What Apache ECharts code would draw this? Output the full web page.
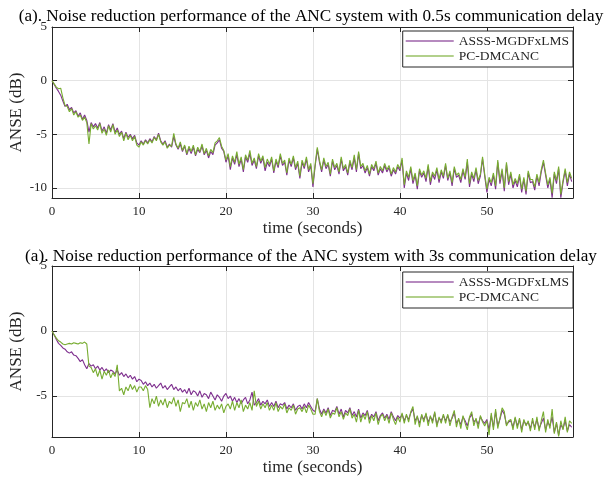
<!DOCTYPE html>
<html>
<head>
<meta charset="utf-8">
<script src="https://cdn.jsdelivr.net/npm/echarts@6/dist/echarts.min.js"></script>
<style>html,body{margin:0;padding:0;background:#fff}#c{width:607px;height:479px}</style>
</head>
<body>
<div id="c"></div>
<script>
// sample spacing of the recorded curves (seconds)
const sampleStep = 0.25;
const xTicks = [0, 10, 20, 30, 40, 50];
const yTicksTop = [-10, -5, 0, 5];
const yTicksBottom = [-5, 0, 5];
const seriesNames = ['ASSS-MGDFxLMS', 'PC-DMCANC'];
const titleTop = '(a). Noise reduction performance of the ANC system with 0.5s communication delay';
const titleBottom = '(a). Noise reduction performance of the ANC system with 3s communication delay';

// 0.5 s delay — ASSS-MGDFxLMS
const delay05_asss = [
0.0,-0.35,-0.7,-1.0,-1.35,-1.9,-2.4,-2.2,-2.7,-2.5,-3.0,-2.8,-3.3,-3.0,-3.6,-3.2,-3.7,-4.8,-3.9,-4.3,-4.0,
-4.4,-3.9,-4.7,-4.3,-4.9,-4.1,-4.6,-4.0,-4.8,-4.4,-5.0,-4.7,-5.4,-4.8,-5.3,-5.0,-5.4,-5.1,-5.8,-6.0,
-5.6,-5.9,-5.5,-5.8,-5.4,-5.7,-5.2,-5.5,-4.9,-5.6,-5.9,-5.6,-6.2,-5.9,-6.2,-5.2,-6.0,-6.4,-5.9,-6.6,
-6.1,-6.9,-6.3,-6.8,-6.2,-7.0,-6.4,-6.7,-6.1,-6.9,-6.5,-7.2,-6.6,-6.9,-6.0,-5.8,-5.5,-6.3,-6.6,-7.6,
-7.0,-8.3,-7.2,-7.8,-6.9,-8.0,-7.3,-8.5,-7.1,-7.6,-6.8,-7.9,-7.4,-8.2,-7.0,-7.7,-7.2,-8.4,-7.6,-8.0,
-7.3,-8.6,-7.5,-8.1,-7.0,-7.9,-7.6,-8.8,-7.4,-8.0,-7.2,-8.3,-7.7,-9.1,-7.6,-8.2,-7.3,-8.5,-7.9,-9.9,
-8.0,-6.4,-7.6,-8.5,-7.4,-8.2,-7.8,-8.9,-7.5,-8.3,-7.9,-8.7,-7.3,-8.4,-8.0,-8.8,-7.6,-8.3,-7.2,-8.5,
-6.8,-8.2,-7.9,-8.6,-8.1,-8.9,-8.0,-8.4,-7.7,-8.8,-8.2,-8.6,-7.9,-8.5,-8.1,-8.9,-8.3,-8.7,-8.0,-8.4,
-7.4,-10.0,-8.6,-9.3,-8.2,-9.6,-8.8,-10.1,-8.4,-9.0,-8.6,-9.4,-8.0,-9.7,-8.7,-9.2,-8.3,-9.5,-8.5,-9.1,
-7.9,-9.3,-8.6,-9.8,-8.2,-9.0,-8.8,-9.5,-8.4,-9.2,-7.6,-9.9,-8.7,-9.4,-8.3,-9.6,-8.9,-7.3,-8.9,-10.4,
-9.2,-9.8,-8.8,-10.1,-7.6,-9.6,-8.4,-10.3,-7.8,-9.7,-8.7,-10.0,-9.3,-9.9,-8.9,-10.4,-9.2,-10.6,-8.6,-9.5,
-9.4,-10.2,-8.9,-9.8,-8.5,-7.6,-8.8,-10.0,-9.2,-10.9,-8.7,-9.6,-8.2,-10.9,-9.5,-8.4,-9.8,-8.7,-9.4
];
// 0.5 s delay — PC-DMCANC
const delay05_pc = [
0.0,-0.3,-0.6,-0.75,-0.7,-1.6,-2.3,-2.4,-2.9,-2.6,-3.2,-2.9,-3.4,-3.2,-3.7,-3.4,-3.9,-5.9,-4.0,-4.5,-4.2,
-4.6,-4.0,-4.9,-4.5,-5.1,-4.2,-4.8,-4.1,-5.0,-4.6,-5.2,-4.8,-5.6,-4.9,-5.5,-5.1,-5.6,-5.2,-6.0,-6.2,
-5.7,-6.0,-5.6,-5.9,-5.5,-5.8,-5.3,-5.6,-5.0,-5.7,-6.0,-5.7,-6.3,-6.0,-6.1,-4.9,-5.9,-6.3,-5.7,-6.5,
-6.0,-6.8,-6.1,-6.6,-6.0,-6.9,-6.2,-6.6,-5.9,-6.8,-6.3,-7.0,-6.4,-6.7,-5.8,-5.6,-5.3,-6.1,-6.5,-7.4,
-6.8,-8.0,-7.0,-7.6,-6.6,-7.8,-7.1,-8.3,-6.9,-7.4,-6.5,-7.7,-7.2,-8.0,-6.8,-7.5,-7.0,-8.1,-7.3,-7.8,
-7.1,-8.4,-7.3,-7.9,-6.8,-7.7,-7.4,-8.6,-7.2,-7.8,-7.0,-8.1,-7.5,-8.9,-7.4,-8.0,-7.1,-8.3,-7.7,-9.6,
-7.8,-6.2,-7.4,-8.3,-7.2,-8.0,-7.6,-8.7,-7.3,-8.1,-7.7,-8.5,-7.1,-8.2,-7.8,-8.6,-7.4,-8.1,-6.9,-8.3,
-6.6,-8.0,-7.7,-8.4,-7.9,-8.7,-7.8,-8.2,-7.5,-8.6,-8.0,-8.4,-7.7,-8.3,-7.9,-8.7,-8.1,-8.5,-7.8,-8.2,
-7.2,-9.7,-8.4,-9.0,-8.0,-9.3,-8.6,-9.8,-8.2,-8.8,-8.4,-9.1,-7.8,-9.4,-8.5,-8.9,-8.1,-9.2,-8.3,-8.9,
-7.7,-9.1,-8.4,-9.5,-8.0,-8.8,-8.6,-9.2,-8.2,-9.0,-7.3,-9.6,-8.5,-9.1,-8.1,-9.3,-8.7,-7.1,-8.7,-10.1,
-9.0,-9.5,-8.6,-9.8,-7.4,-9.3,-8.2,-10.0,-7.6,-9.4,-8.5,-9.7,-9.1,-9.6,-8.7,-10.1,-9.0,-10.3,-8.4,-9.2,
-9.2,-9.9,-8.7,-9.5,-8.3,-7.4,-8.6,-9.7,-9.0,-10.5,-8.5,-9.3,-8.0,-10.6,-9.3,-8.2,-9.5,-8.5,-9.1
];
// 3 s delay — ASSS-MGDFxLMS
const delay3_asss = [
0.0,-0.3,-0.65,-0.95,-1.1,-1.3,-1.4,-1.6,-1.7,-1.6,-1.85,-1.9,-2.1,-2.35,-2.2,-2.6,-2.9,-2.5,-2.7,-2.6,-2.9,
-2.7,-3.0,-2.8,-3.1,-2.9,-3.2,-3.0,-3.1,-3.3,-3.0,-3.4,-3.2,-3.5,-3.3,-3.6,-3.4,-3.7,-3.5,-3.9,-3.7,
-3.8,-4.1,-3.9,-4.2,-4.0,-4.3,-4.1,-4.4,-4.2,-4.0,-4.4,-4.2,-4.5,-4.3,-4.1,-4.5,-4.3,-4.6,-4.4,-4.7,
-4.5,-4.8,-4.4,-4.9,-4.6,-4.7,-5.0,-4.6,-5.1,-4.8,-4.9,-5.2,-4.7,-5.0,-5.3,-4.9,-5.1,-5.4,-5.0,-4.8,
-5.2,-5.0,-5.4,-5.1,-5.5,-5.2,-5.6,-5.3,-5.1,-5.6,-5.3,-4.7,-5.7,-5.5,-5.2,-5.7,-5.4,-5.6,-5.3,-5.8,
-5.5,-5.8,-5.4,-5.9,-5.6,-5.7,-5.5,-6.0,-5.7,-5.9,-5.6,-6.1,-5.8,-5.7,-6.0,-5.6,-5.9,-5.5,-5.8,-6.1,
-6.2,-5.2,-6.0,-6.4,-6.0,-6.3,-5.9,-6.5,-6.1,-6.2,-5.8,-6.4,-6.0,-6.6,-6.1,-6.3,-5.9,-6.5,-6.2,-6.6,
-6.0,-6.7,-6.3,-6.5,-6.1,-6.8,-6.4,-6.6,-6.2,-6.9,-6.5,-6.3,-6.7,-6.4,-6.8,-6.2,-6.6,-6.9,-6.5,-6.7,
-6.4,-6.9,-6.5,-6.8,-6.3,-6.0,-6.9,-6.6,-7.1,-6.5,-6.8,-6.4,-7.0,-6.6,-6.9,-6.3,-7.2,-6.7,-6.9,-6.5,
-6.9,-6.5,-7.0,-6.7,-6.3,-7.1,-6.8,-7.2,-6.6,-6.9,-7.3,-6.7,-6.4,-7.0,-6.8,-7.2,-6.6,-6.9,-7.1,-6.8,
-7.6,-6.5,-7.4,-6.2,-7.3,-6.8,-6.1,-6.4,-7.2,-7.0,-6.9,-7.4,-6.7,-7.3,-6.8,-7.6,-6.9,-7.2,-7.0,-7.5,
-6.9,-7.4,-6.8,-7.5,-7.1,-6.7,-7.6,-7.0,-7.3,-6.6,-7.8,-7.1,-8.0,-7.2,-7.5,-6.9,-7.7,-7.2,-7.4
];
// 3 s delay — PC-DMCANC
const delay3_pc = [
0.0,-0.3,-0.55,-0.75,-0.85,-1.0,-1.05,-1.0,-0.95,-1.0,-0.9,-0.95,-1.0,-0.9,-0.95,-0.85,-1.0,-2.7,-2.8,-3.2,-2.9,
-3.5,-3.0,-3.7,-3.1,-3.4,-3.0,-3.6,-3.2,-3.5,-2.6,-4.6,-4.4,-4.9,-4.3,-4.6,-4.1,-4.5,-4.2,-4.7,-4.3,
-4.3,-4.6,-4.2,-4.5,-5.9,-5.2,-5.6,-5.0,-5.8,-5.3,-5.7,-5.2,-5.9,-5.4,-5.6,-5.1,-5.8,-5.3,-6.2,-5.5,
-5.6,-5.2,-5.9,-5.4,-6.1,-5.5,-5.8,-5.3,-6.0,-5.6,-6.2,-5.5,-5.9,-5.4,-6.1,-5.7,-6.0,-5.6,-6.3,-5.8,
-5.6,-6.0,-5.4,-6.1,-5.5,-5.9,-5.3,-6.2,-5.7,-6.0,-5.5,-6.1,-4.6,-5.8,-5.4,-6.0,-5.6,-5.9,-5.5,-6.1,
-5.7,-6.1,-5.5,-6.2,-5.8,-6.0,-5.6,-6.3,-5.9,-6.1,-5.7,-6.4,-6.0,-5.9,-6.2,-5.8,-6.3,-5.7,-6.0,-6.4,
-6.4,-5.2,-6.2,-6.6,-6.1,-6.5,-6.0,-6.7,-6.3,-6.4,-5.9,-6.6,-6.2,-6.8,-6.3,-6.5,-6.0,-6.7,-6.4,-7.0,
-6.1,-7.0,-6.4,-6.8,-6.2,-7.1,-6.5,-6.9,-6.3,-7.2,-6.6,-6.4,-6.9,-6.5,-7.1,-6.3,-6.8,-7.2,-6.6,-7.0,
-6.3,-7.1,-6.4,-7.0,-6.2,-5.8,-7.2,-6.5,-7.4,-6.4,-7.0,-6.3,-7.3,-6.5,-7.1,-6.2,-7.4,-6.6,-7.1,-6.4,
-7.1,-6.4,-7.3,-6.6,-6.1,-7.4,-6.7,-7.5,-6.5,-7.1,-7.6,-6.6,-6.2,-7.3,-6.7,-7.5,-6.5,-7.0,-7.3,-6.9,
-8.0,-6.3,-7.6,-6.0,-7.5,-6.7,-5.9,-6.2,-7.3,-6.9,-6.8,-7.6,-6.6,-7.5,-6.7,-7.8,-6.8,-7.3,-6.9,-7.7,
-6.7,-7.6,-6.6,-7.7,-6.9,-6.2,-7.8,-6.8,-7.5,-6.0,-7.9,-7.0,-8.1,-6.9,-7.6,-6.6,-7.8,-6.9,-7.1
];

const FONT = 'Liberation Serif';
const AX = '#262626';
const GRIDC = '#e4e4e4';
const COLORS = ['#7E2F8E', '#77AC30'];

function pairs(vals) { return vals.map((v, i) => [i * sampleStep, v]); }

const grids = [
  { left: 52, top: 27, width: 521, height: 171, outerBoundsMode: 'none', containLabel: false },
  { left: 52, top: 266, width: 521, height: 171, outerBoundsMode: 'none', containLabel: false }
];
const yMins = [-10.93, -8.15];
const yTickSets = [yTicksTop, yTicksBottom];

const xAxes = [], yAxes = [];
for (let g = 0; g < 2; g++) {
  xAxes.push({
    gridIndex: g, type: 'value', min: 0, max: 59.9, position: 'bottom',
    axisLine: { show: true, onZero: false, lineStyle: { color: AX, width: 1 } },
    axisTick: { show: true, inside: true, length: 5, customValues: xTicks, lineStyle: { color: AX } },
    axisLabel: { customValues: xTicks, color: AX, fontFamily: FONT, fontSize: 13, margin: 7 },
    splitLine: { show: true, lineStyle: { color: GRIDC, width: 1 } },
    name: 'time (seconds)', nameLocation: 'middle', nameGap: 22, nameMoveOverlap: false,
    nameTextStyle: { color: AX, fontFamily: FONT, fontSize: 17 }
  });
  xAxes.push({
    gridIndex: g, type: 'value', min: 0, max: 59.9, position: 'top',
    axisLine: { show: true, onZero: false, lineStyle: { color: AX, width: 1 } },
    axisTick: { show: true, inside: true, length: 5, customValues: xTicks, lineStyle: { color: AX } },
    axisLabel: { show: false }, splitLine: { show: false }
  });
  yAxes.push({
    gridIndex: g, type: 'value', min: yMins[g], max: 5, position: 'left',
    axisLine: { show: true, onZero: false, lineStyle: { color: AX, width: 1 } },
    axisTick: { show: true, inside: true, length: 5, customValues: yTickSets[g], lineStyle: { color: AX } },
    axisLabel: { customValues: yTickSets[g], color: AX, fontFamily: FONT, fontSize: 13, margin: 5 },
    splitLine: { show: true, lineStyle: { color: GRIDC, width: 1 } },
    name: 'ANSE (dB)', nameLocation: 'middle', nameGap: 27, nameRotate: 90, nameMoveOverlap: false,
    nameTextStyle: { color: AX, fontFamily: FONT, fontSize: 17 }
  });
  yAxes.push({
    gridIndex: g, type: 'value', min: yMins[g], max: 5, position: 'right',
    axisLine: { show: true, onZero: false, lineStyle: { color: AX, width: 1 } },
    axisTick: { show: true, inside: true, length: 5, customValues: yTickSets[g], lineStyle: { color: AX } },
    axisLabel: { show: false }, splitLine: { show: false }
  });
}

const dataSets = [[delay05_asss, delay05_pc], [delay3_asss, delay3_pc]];
const series = [];
for (let g = 0; g < 2; g++) {
  for (let s = 0; s < 2; s++) {
    series.push({
      type: 'line', name: seriesNames[s], xAxisIndex: g * 2, yAxisIndex: g * 2,
      data: pairs(dataSets[g][s]), symbol: 'none', showSymbol: false,
      lineStyle: { color: COLORS[s], width: 1.1 }, itemStyle: { color: COLORS[s] },
      animation: false, silent: true, z: 2 + s
    });
  }
}

const legendBase = {
  data: seriesNames.map((n, i) => ({ name: n, icon: 'rect', itemStyle: { color: COLORS[i], opacity: 0.75 } })),
  orient: 'vertical', right: 34, selectedMode: false,
  backgroundColor: '#fff', borderColor: AX, borderWidth: 1, borderRadius: 0,
  padding: [3, 4, 4, 3], itemWidth: 48, itemHeight: 1.3, itemGap: 1,
  textStyle: { color: AX, fontFamily: FONT, fontSize: 13.5, lineHeight: 14 }
};

const chart = echarts.init(document.getElementById('c'), null, { renderer: 'canvas' });
chart.setOption({
  animation: false,
  backgroundColor: '#fff',
  grid: grids,
  xAxis: xAxes,
  yAxis: yAxes,
  series: series,
  legend: [
    Object.assign({}, legendBase, { top: 31 }),
    Object.assign({}, legendBase, { top: 272 })
  ],
  graphic: [
    { type: 'text', x: 311, y: 16.5, silent: true,
      style: { text: titleTop, align: 'center', verticalAlign: 'middle', fontFamily: FONT, fontSize: 17.2, fill: '#000' } },
    { type: 'text', x: 311, y: 256, silent: true,
      style: { text: titleBottom, align: 'center', verticalAlign: 'middle', fontFamily: FONT, fontSize: 17.2, fill: '#000' } }
  ]
});
</script>
</body>
</html>
